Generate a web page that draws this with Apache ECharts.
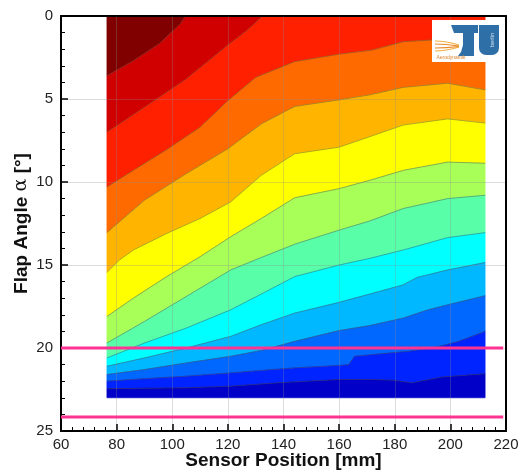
<!DOCTYPE html>
<html>
<head>
<meta charset="utf-8">
<script src="https://cdn.jsdelivr.net/npm/echarts@6/dist/echarts.min.js"></script>
<style>
  html, body { margin: 0; padding: 0; background: #fff; }
  #chart { width: 520px; height: 472px; }
</style>
</head>
<body>
<div id="chart"></div>
<script>
// Measured field: sensor positions (mm) and flap angles (deg) covered by the map
const SENSOR_RANGE = [76.5, 212.5];
const ALPHA_RANGE = [0, 23];

// Axis ranges
const X_AXIS = { min: 60, max: 220, step: 20 };
const Y_AXIS = { min: 0, max: 25, step: 5 };

// Contour lines separating the filled levels, [sensor position mm, flap angle deg]
const LEVEL_1  = [[76.5,3.6],[86,2.7],[95.5,1.65],[103,0.45],[104.8,0]];
const LEVEL_2  = [[76.5,7.0],[90,5.5],[105,3.8],[120,1.75],[127,0.85],[132.5,0]];
const LEVEL_3  = [[76.5,10.3],[86,9.3],[98,8.05],[110,6.7],[120,5.1],[130,3.7],[144,2.75],[160,2.3],[172,2.05],[183,1.55],[193,1.45],[205,1.3],[212.5,1.2]];
const LEVEL_4  = [[76.5,13.05],[90,11.1],[105,9.5],[120,8.0],[132,6.5],[144,5.45],[160,5.05],[171,4.75],[183,4.3],[199,4.05],[212.5,4.45]];
const LEVEL_5  = [[76.5,15.45],[81,14.7],[86,14.1],[98,13.1],[110,12.2],[121,11.2],[132,9.6],[144,8.3],[160,7.9],[171,7.27],[183,6.57],[199,6.2],[212.5,6.45]];
const LEVEL_6  = [[76.5,18.1],[86,17.0],[98,15.7],[110,14.5],[121,13.3],[132,12.2],[144,10.95],[160,10.4],[171,9.9],[183,9.3],[199,8.8],[212.5,8.87]];
const LEVEL_7  = [[76.5,19.7],[90,18.4],[105,16.9],[121,15.3],[132,14.55],[144,13.75],[160,12.9],[171,12.35],[183,11.6],[199,11.0],[212.5,10.8]];
const LEVEL_8  = [[76.5,20.6],[90,19.7],[105,18.8],[121,17.7],[132,16.75],[144,15.7],[160,15.0],[171,14.6],[183,14.1],[199,13.35],[212.5,13.05]];
const LEVEL_9  = [[76.5,21.1],[90,20.6],[105,20.0],[121,19.3],[132,18.6],[144,17.9],[160,17.25],[171,16.75],[183,16.2],[188,15.75],[199,15.3],[212.5,14.85]];
const LEVEL_10 = [[76.5,21.6],[90,21.3],[105,20.9],[121,20.5],[132,20.15],[144,19.6],[160,18.95],[171,18.65],[183,18.2],[192,17.7],[199,17.4],[212.5,16.85]];
const LEVEL_11 = [[76.5,22.0],[90,21.85],[105,21.7],[121,21.5],[132,21.35],[144,21.2],[160,21.05],[163.5,21.0],[165.5,20.5],[175,20.35],[185,20.2],[195,19.95],[203,19.6],[212.5,19.0]];
const LEVEL_12 = [[76.5,22.45],[105,22.4],[121,22.3],[138,22.1],[160,21.9],[172,21.9],[180,21.95],[186,22.1],[197,21.75],[212.5,21.55]];

const CONTOURS = [LEVEL_1, LEVEL_2, LEVEL_3, LEVEL_4, LEVEL_5, LEVEL_6,
                  LEVEL_7, LEVEL_8, LEVEL_9, LEVEL_10, LEVEL_11, LEVEL_12];

// Fill colour of each band, from the top (small angle) band downwards
const BAND_COLORS = ['#800000', '#d00000', '#ff2000', '#ff6a00', '#ffb400', '#ffff00',
                     '#a8ff58', '#58ffa8', '#00ffff', '#00b8ff', '#0068ff', '#0024ff', '#0000c8'];

// Reference angles marked across the plot
const MARK_ANGLES = [20, 24.15];
const MARK_SPAN = [60, 219];

const FONT = '"Liberation Sans", Arial, Helvetica, sans-serif';

// A contour line closed off to the full measured width (runs along the edge it meets)
function spanLine(line) {
  const pts = line.slice();
  const first = pts[0], last = pts[pts.length - 1];
  if (first[0] > SENSOR_RANGE[0]) pts.unshift([SENSOR_RANGE[0], first[1]]);
  if (last[0] < SENSOR_RANGE[1]) pts.push([SENSOR_RANGE[1], last[1]]);
  return pts;
}

function bandOutline(k) {
  const top = k === 0
    ? [[SENSOR_RANGE[0], ALPHA_RANGE[0]], [SENSOR_RANGE[1], ALPHA_RANGE[0]]]
    : spanLine(CONTOURS[k - 1]);
  const bottom = k === CONTOURS.length
    ? [[SENSOR_RANGE[0], ALPHA_RANGE[1]], [SENSOR_RANGE[1], ALPHA_RANGE[1]]]
    : spanLine(CONTOURS[k]);
  return top.concat(bottom.slice().reverse());
}

const chart = echarts.init(document.getElementById('chart'), null, { renderer: 'canvas' });

const axisCommon = {
  type: 'value',
  z: 5,
  axisLine: { show: true, onZero: false, lineStyle: { color: '#000', width: 2 } },
  axisTick: { show: true, inside: true, length: 7, lineStyle: { color: '#000', width: 1.5 } },
  minorTick: { show: true, splitNumber: 5, length: 4, lineStyle: { color: '#000', width: 1 } },
  splitLine: { show: true, lineStyle: { color: 'rgba(140,140,140,0.3)', width: 1 } },
  axisLabel: { color: '#222', fontSize: 15, fontFamily: FONT }
};

const frameAxis = {
  type: 'value',
  z: 5,
  axisLine: { show: true, onZero: false, lineStyle: { color: '#000', width: 2 } },
  axisTick: { show: false },
  axisLabel: { show: false },
  splitLine: { show: false }
};

const LOGO_BLUE = '#2f6fa8';
const LZ = 50;

chart.setOption({
  animation: false,
  backgroundColor: '#fff',
  grid: { left: 61, top: 16, right: 14, bottom: 41, outerBoundsMode: 'none', containLabel: false },
  xAxis: [
    Object.assign({}, axisCommon, {
      min: X_AXIS.min, max: X_AXIS.max, interval: X_AXIS.step,
      position: 'bottom',
      axisLabel: Object.assign({}, axisCommon.axisLabel, { margin: 6 }),
      name: 'Sensor Position [mm]',
      nameLocation: 'middle',
      nameGap: 20,
      nameMoveOverlap: false,
      nameTextStyle: { fontWeight: 'bold', fontSize: 19, color: '#111', fontFamily: FONT }
    }),
    Object.assign({}, frameAxis, { min: X_AXIS.min, max: X_AXIS.max, position: 'top' })
  ],
  yAxis: [
    Object.assign({}, axisCommon, {
      min: Y_AXIS.min, max: Y_AXIS.max, interval: Y_AXIS.step,
      inverse: true,
      position: 'left',
      axisLabel: Object.assign({}, axisCommon.axisLabel, { margin: 8 }),
      name: 'Flap Angle {a|α} [°]',
      nameLocation: 'middle',
      nameGap: 30,
      nameMoveOverlap: false,
      nameTextStyle: {
        fontWeight: 'bold', fontSize: 19, color: '#111', fontFamily: FONT,
        rich: { a: { fontWeight: 'normal', fontSize: 19, color: '#111', fontFamily: '"DejaVu Serif", "Liberation Serif", serif' } }
      }
    }),
    Object.assign({}, frameAxis, { min: Y_AXIS.min, max: Y_AXIS.max, inverse: true, position: 'right' })
  ],
  series: [
    {
      type: 'custom',
      name: 'bands',
      z: 2,
      clip: false,
      silent: true,
      data: BAND_COLORS.map((c, k) => [SENSOR_RANGE[0], ALPHA_RANGE[0], k]),
      renderItem: function (params, api) {
        const k = api.value(2);
        const pts = bandOutline(k).map(p => api.coord(p));
        return {
          type: 'polygon',
          shape: { points: pts },
          style: { fill: BAND_COLORS[k], stroke: BAND_COLORS[k], lineWidth: 0.6 }
        };
      }
    },
    {
      type: 'custom',
      name: 'contour lines',
      z: 3,
      clip: false,
      silent: true,
      data: CONTOURS.map((c, k) => [SENSOR_RANGE[0], ALPHA_RANGE[0], k]),
      renderItem: function (params, api) {
        const k = api.value(2);
        const pts = CONTOURS[k].map(p => api.coord(p));
        return {
          type: 'polyline',
          shape: { points: pts },
          style: { fill: null, stroke: 'rgba(70,70,60,0.55)', lineWidth: 0.8 }
        };
      }
    }
  ].concat(MARK_ANGLES.map(a => ({
    type: 'line',
    z: 10,
    silent: true,
    symbol: 'none',
    data: MARK_SPAN.map(x => [x, a]),
    lineStyle: { color: '#ff3392', width: 3 }
  }))),
  graphic: [
    {
      type: 'group',
      x: 432, y: 20,
      z: LZ,
      children: [
        { type: 'rect', z: LZ, shape: { x: 0, y: 0, width: 68, height: 42 }, style: { fill: '#fff' } },
        // airflow streaks
        { type: 'bezierCurve', z: LZ + 1, shape: { x1: 3, y1: 21, cpx1: 14, cpy1: 21, x2: 27, y2: 25 }, style: { stroke: '#f0b040', lineWidth: 1.2, fill: null } },
        { type: 'bezierCurve', z: LZ + 1, shape: { x1: 3, y1: 24, cpx1: 14, cpy1: 24, x2: 27, y2: 26 }, style: { stroke: '#e88a2a', lineWidth: 1.2, fill: null } },
        { type: 'bezierCurve', z: LZ + 1, shape: { x1: 3, y1: 31, cpx1: 14, cpy1: 31, x2: 27, y2: 27 }, style: { stroke: '#f0b040', lineWidth: 1.2, fill: null } },
        { type: 'bezierCurve', z: LZ + 1, shape: { x1: 3, y1: 28, cpx1: 14, cpy1: 28, x2: 27, y2: 26.5 }, style: { stroke: '#e88a2a', lineWidth: 1.2, fill: null } },
        // T
        { type: 'polygon', z: LZ + 2, shape: { points: [[19,5],[46,5],[46,13],[22,13]] }, style: { fill: LOGO_BLUE } },
        { type: 'polygon', z: LZ + 2, shape: { points: [[31,13],[42,13],[42,36],[26,36],[29,32],[31,25]] }, style: { fill: LOGO_BLUE } },
        // U
        { type: 'rect', z: LZ + 2, shape: { x: 47, y: 5, width: 20, height: 30, r: [0, 0, 7, 7] }, style: { fill: LOGO_BLUE } },
        { type: 'text', z: LZ + 3, x: 60, y: 20, rotation: Math.PI / 2,
          style: { text: 'berlin', fill: '#cfe0f0', fontSize: 6, fontFamily: FONT, align: 'center', verticalAlign: 'middle' } },
        { type: 'text', z: LZ + 3, x: 19, y: 38,
          style: { text: 'Aerodynamik', fill: '#d9822b', fontSize: 5, fontFamily: FONT, align: 'center', verticalAlign: 'middle' } }
      ]
    }
  ]
});
</script>
</body>
</html>
